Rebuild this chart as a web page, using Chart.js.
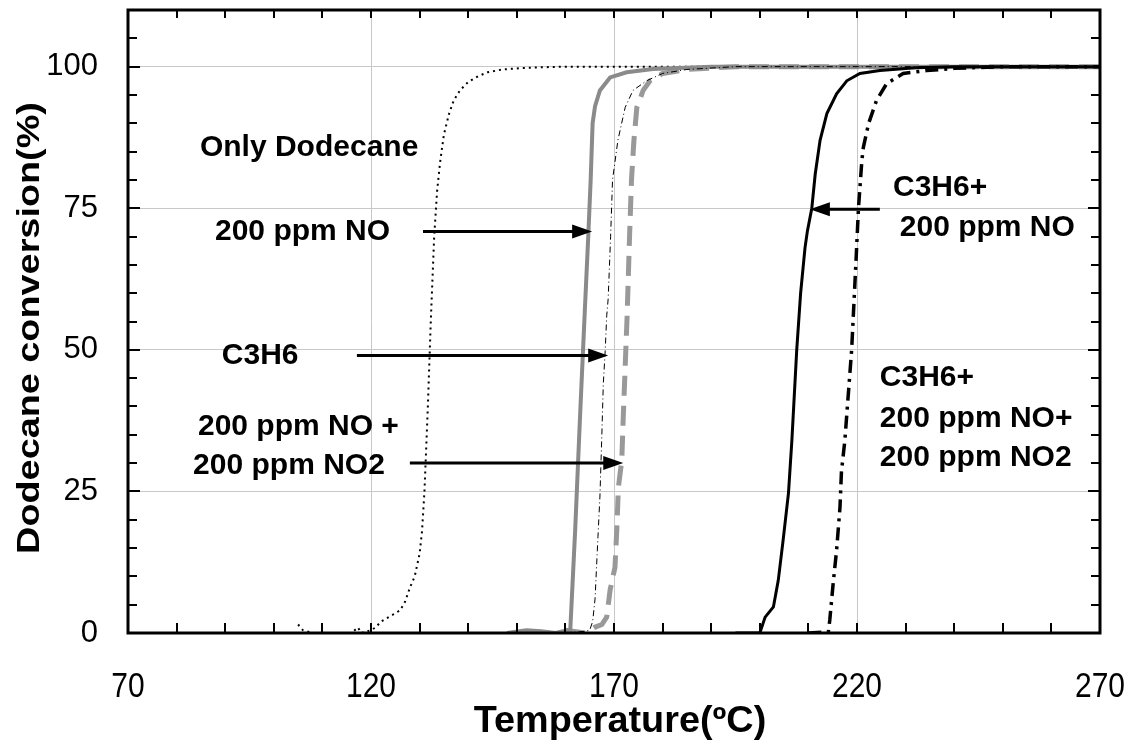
<!DOCTYPE html>
<html>
<head>
<meta charset="utf-8">
<script src="https://cdn.jsdelivr.net/npm/chart.js@4.4.1/dist/chart.umd.min.js"></script>
<style>
  body { margin: 0; background: #fff; }
</style>
</head>
<body>
<canvas id="chart" width="1135" height="744"></canvas>
<script>
// temperatures (°C) and conversions (%)
const dodecaneT = [105, 106, 108, 112, 116, 117.3, 118, 120, 121, 122, 123, 124, 125, 126, 127, 128, 129, 130, 130.5, 131, 131.7, 132.3, 133, 133.6, 134.2, 135, 136, 137, 138.3, 140, 142, 144, 147, 152, 160, 270];
const dodecaneY = [1.5, 0.5, 0, 0, 0, 1, 0, 0.5, 1, 2, 2.5, 3, 3.5, 4, 5.5, 8, 10, 14, 18, 25, 40, 55, 70, 78, 83, 88, 91.5, 94, 95.8, 97.3, 98.3, 99, 99.5, 99.8, 100, 100];

const noT = [148, 152, 155, 158, 160, 161, 162, 163, 164, 164.7, 165.2, 165.6, 166.1, 167.1, 169.2, 172.6, 178, 190, 270];
const noY = [0, 0.5, 0.3, 0, 0.4, 0.5, 18, 38, 57, 70, 80, 90, 93, 95.8, 98.1, 99, 99.6, 100, 100];

const c3h6T = [160, 164, 165, 165.6, 166.1, 166.7, 167.1, 167.5, 167.8, 168.2, 168.5, 168.8, 169.3, 169.7, 170.8, 172.3, 173.9, 176.7, 180, 185, 195, 270];
const c3h6Y = [0, 0.3, 0.5, 2, 6, 17, 24, 35, 44, 50, 56, 59, 70, 80, 87, 92.8, 95.8, 97.5, 98.8, 99.5, 100, 100];

const noNo2T = [160, 164, 166, 167.5, 168.5, 169.2, 170.2, 170.6, 170.9, 171.6, 171.9, 172.3, 172.7, 173.2, 173.6, 174.1, 174.7, 176, 177.4, 180, 185, 195, 270];
const noNo2Y = [0.5, 0, 1, 1.5, 2.8, 7.6, 11.6, 18.7, 25.7, 30.5, 38, 47, 56, 70, 80, 87, 92.8, 95.8, 97.5, 98.8, 99.5, 100, 100];

const c3h6NoT = [195, 200, 201.1, 202.8, 203.8, 204.8, 205.9, 206.6, 207.6, 208.4, 209.3, 209.8, 210.7, 211.4, 212.4, 213.8, 215.8, 217.9, 220.6, 224.7, 232, 240, 270];
const c3h6NoY = [0, 0, 2.8, 4.6, 9.3, 16.4, 24.7, 34, 50, 60, 68, 71, 75, 81, 87, 91.7, 95.2, 97.5, 98.8, 99.3, 99.8, 100, 100];

const c3h6NoNo2T = [210, 214.1, 214.4, 215.1, 215.8, 216.5, 216.8, 217.5, 218.9, 219.8, 220.3, 221, 221.3, 222.4, 224, 226.1, 229.5, 234.3, 240, 250, 270];
const c3h6NoNo2Y = [0, 0.2, 2.3, 8.8, 14.6, 22.2, 28.5, 34, 50, 65.8, 75, 83.4, 85.7, 90, 94, 97, 98.8, 99.3, 99.7, 100, 100];

// axis ranges and tick values
const xMin = 70, xMax = 270, xStep = 50, xMinor = 10;
const yMin = 0, yMax = 110, yStep = 25, yMinor = 5;
const xTitle = 'Temperature(ºC)';
const yTitle = 'Dodecane conversion(%)';

// annotation labels [text, x, y] and arrows [x from, x to, y]
const labels = [
  ['Only Dodecane', 84.8, 85.7],
  ['200 ppm NO', 87.9, 70.9],
  ['C3H6', 89.3, 48.9],
  ['200 ppm NO +', 84.4, 36.5],
  ['200 ppm NO2', 83.4, 29.5],
  ['C3H6+', 227.4, 78.7],
  ['200 ppm NO', 228.8, 71.6],
  ['C3H6+', 224.7, 45.0],
  ['200 ppm NO+', 224.7, 37.9],
  ['200 ppm NO2', 224.7, 31.0]
];
const arrows = [
  [130.7, 165.5, 70.9],
  [117.1, 168.8, 49.0],
  [128.0, 171.9, 30.0],
  [224.7, 210.3, 74.8]
];

function pts(xs, ys) {
  return xs.map((x, i) => ({ x: x, y: ys[i] }));
}

const FONT = "'Liberation Sans', Arial, sans-serif";

// frame, inside ticks, x tick labels, axis titles, labels and arrows
const decor = {
  id: 'decor',
  afterDatasetsDraw(chart) {
    const ctx = chart.ctx;
    const a = chart.chartArea;
    const xs = chart.scales.x, ys = chart.scales.y;
    ctx.save();
    ctx.strokeStyle = '#000';
    ctx.lineWidth = 2;
    for (let v = xMin + xMinor; v < xMax; v += xMinor) {
      const px = Math.round(xs.getPixelForValue(v));
      ctx.beginPath();
      ctx.moveTo(px, a.bottom); ctx.lineTo(px, a.bottom - 10);
      ctx.moveTo(px, a.top); ctx.lineTo(px, a.top + 8);
      ctx.stroke();
    }
    for (let v = yMin + yMinor; v < yMax; v += yMinor) {
      const py = Math.round(ys.getPixelForValue(v));
      const len = v % yStep === 0 ? 12 : 9;
      ctx.beginPath();
      ctx.moveTo(a.left, py); ctx.lineTo(a.left + len, py);
      ctx.moveTo(a.right, py); ctx.lineTo(a.right - len, py);
      ctx.stroke();
    }
    ctx.lineWidth = 3;
    ctx.strokeRect(a.left, a.top, a.right - a.left, a.bottom - a.top);

    ctx.fillStyle = '#000';
    ctx.textAlign = 'center';
    ctx.textBaseline = 'middle';

    // x tick labels are a little taller than wide in the original
    ctx.font = '30px ' + FONT;
    xs.ticks.forEach(t => {
      ctx.save();
      ctx.translate(xs.getPixelForValue(t.value), 687);
      ctx.scale(1, 1.17);
      ctx.fillText(String(t.value), 0, 0);
      ctx.restore();
    });

    ctx.font = 'bold 36px ' + FONT;
    ctx.save();
    ctx.translate((a.left + a.right) / 2 + 6, 722);
    ctx.scale(1.05, 1);
    ctx.fillText(xTitle, 0, 0);
    ctx.restore();
    ctx.font = 'bold 31px ' + FONT;
    ctx.save();
    ctx.translate(30, 328);
    ctx.rotate(-Math.PI / 2);
    ctx.scale(1.22, 1);
    ctx.fillText(yTitle, 0, 0);
    ctx.restore();

    ctx.font = 'bold 30px ' + FONT;
    ctx.textAlign = 'left';
    labels.forEach(l => {
      ctx.fillText(l[0], xs.getPixelForValue(l[1]), ys.getPixelForValue(l[2]));
    });

    ctx.lineWidth = 3;
    arrows.forEach(r => {
      const x0 = xs.getPixelForValue(r[0]);
      const x1 = xs.getPixelForValue(r[1]);
      const y = ys.getPixelForValue(r[2]);
      const dir = x1 > x0 ? 1 : -1;
      ctx.beginPath();
      ctx.moveTo(x0, y); ctx.lineTo(x1 - dir * 14, y);
      ctx.stroke();
      ctx.beginPath();
      ctx.moveTo(x1, y);
      ctx.lineTo(x1 - dir * 20, y - 7);
      ctx.lineTo(x1 - dir * 20, y + 7);
      ctx.closePath();
      ctx.fill();
    });
    ctx.restore();
  }
};

new Chart(document.getElementById('chart'), {
  type: 'line',
  data: {
    datasets: [
      { label: 'C3H6+200 ppm NO+200 ppm NO2', data: pts(c3h6NoNo2T, c3h6NoNo2Y), borderColor: '#000', borderWidth: 3.5, borderDash: [13, 6, 3, 6] },
      { label: 'C3H6+200 ppm NO', data: pts(c3h6NoT, c3h6NoY), borderColor: '#000', borderWidth: 3 },
      { label: 'C3H6', data: pts(c3h6T, c3h6Y), borderColor: '#000', borderWidth: 1, borderDash: [6, 3, 1, 3] },
      { label: '200 ppm NO', data: pts(noT, noY), borderColor: '#8a8a8a', borderWidth: 4 },
      { label: '200 ppm NO + 200 ppm NO2', data: pts(noNo2T, noNo2Y), borderColor: '#999', borderWidth: 5, borderDash: [20, 10] },
      { label: 'Only Dodecane', data: pts(dodecaneT, dodecaneY), borderColor: '#000', borderWidth: 2, borderDash: [2, 4] }
    ]
  },
  options: {
    responsive: false,
    animation: false,
    devicePixelRatio: 1,
    layout: { padding: { top: 10, right: 35, left: 0, bottom: 0 } },
    elements: { point: { radius: 0 }, line: { tension: 0, fill: false } },
    plugins: { legend: { display: false }, tooltip: { enabled: false } },
    scales: {
      x: {
        type: 'linear',
        min: xMin,
        max: xMax,
        afterFit(s) { s.height = 111; s.paddingLeft = 0; s.paddingRight = 0; },
        grid: { color: '#c8c8c8', lineWidth: 1, drawTicks: false },
        border: { display: false },
        ticks: { stepSize: xStep, display: false }
      },
      y: {
        min: yMin,
        max: yMax,
        afterFit(s) { s.width = 128; s.paddingTop = 0; s.paddingBottom = 0; },
        afterBuildTicks(s) { s.ticks = s.ticks.filter(t => t.value <= 100); },
        grid: { color: '#c8c8c8', lineWidth: 1, drawTicks: false },
        border: { display: false },
        ticks: { stepSize: yStep, padding: 30, color: '#000', font: { family: FONT, size: 31 } }
      }
    }
  },
  plugins: [decor]
});
</script>
</body>
</html>
